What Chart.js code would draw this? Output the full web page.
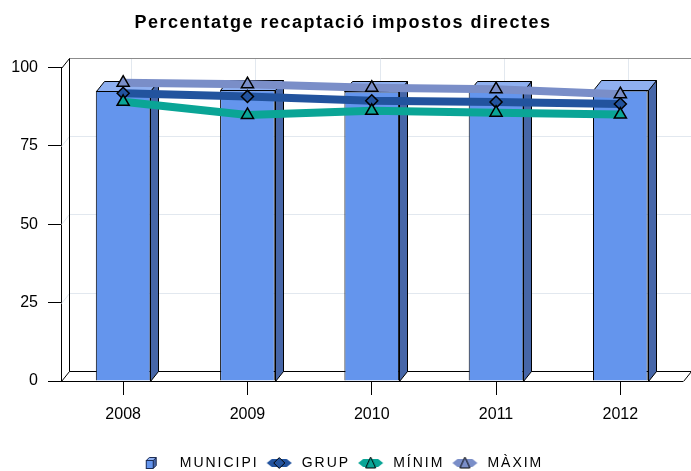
<!DOCTYPE html>
<html>
<head>
<meta charset="utf-8">
<script src="https://cdn.jsdelivr.net/npm/chart.js@4.4.0/dist/chart.umd.min.js"></script>
<style>
  html, body { margin: 0; padding: 0; background: #fff; }
</style>
</head>
<body>
<canvas id="chart" width="691" height="471"></canvas>
<script>
// Data
var years    = ['2008', '2009', '2010', '2011', '2012'];
var municipi = [92.6, 92.8, 92.4, 92.5, 92.7];
var grup     = [91.8, 90.8, 89.4, 89.0, 88.4];
var minim    = [89.1, 84.9, 86.2, 85.6, 85.0];
var maxim    = [95.2, 94.7, 93.6, 93.1, 91.5];
var yTicks   = [0, 25, 50, 75, 100];

var seriesNames = ['MUNICIPI', 'GRUP', 'MÍNIM', 'MÀXIM'];

// depth of the fake 3D box
var DX = 8, DY = -10;

// the reference text is spaced out, wrap legend + title to add letter spacing
function spaced(el, spacing) {
  ['fit', 'draw'].forEach(function(m) {
    var orig = el.prototype[m];
    el.prototype[m] = function() {
      var c = this.ctx, old = c.letterSpacing;
      c.letterSpacing = spacing;
      var r = orig.apply(this, arguments);
      c.letterSpacing = old;
      return r;
    };
  });
}
spaced(Chart.registry.getPlugin('legend')._element, '2px');
spaced(Chart.registry.getPlugin('title')._element, '1.5px');

function line(ctx, x1, y1, x2, y2) {
  ctx.beginPath();
  ctx.moveTo(x1, y1);
  ctx.lineTo(x2, y2);
  ctx.stroke();
}

function poly(ctx, pts, fill) {
  ctx.beginPath();
  ctx.moveTo(pts[0][0], pts[0][1]);
  for (var i = 1; i < pts.length; i++) ctx.lineTo(pts[i][0], pts[i][1]);
  ctx.closePath();
  ctx.fillStyle = fill;
  ctx.fill();
  ctx.stroke();
}

// Back wall, floor and grid
var wallPlugin = {
  id: 'wall3d',
  beforeDatasetsDraw: function(chart) {
    var ctx = chart.ctx, a = chart.chartArea;
    var ys = chart.scales.y, xs = chart.scales.x;
    var L = Math.round(a.left) + 0.5, R = Math.round(a.right) + 0.5;
    var T = Math.round(a.top) + 0.5, B = Math.round(a.bottom) + 0.5;
    ctx.save();
    ctx.lineWidth = 1;
    ctx.strokeStyle = '#e2e8ef';
    yTicks.forEach(function(v) {
      if (v === 0 || v === 100) return;
      var py = Math.round(ys.getPixelForValue(v)) + 0.5;
      line(ctx, L, py, L + DX, py + DY);
      line(ctx, L + DX, py + DY, R + DX, py + DY);
    });
    years.forEach(function(_, i) {
      var px = Math.round(xs.getPixelForValue(i)) + DX + 0.5;
      line(ctx, px, T + DY, px, B + DY);
    });
    ctx.strokeStyle = '#8c8c8c';
    line(ctx, L + DX, T + DY, R + DX, T + DY);
    ctx.strokeStyle = '#000';
    line(ctx, L, T, L + DX, T + DY);
    line(ctx, L + DX, T + DY, L + DX, B + DY);
    line(ctx, L + DX, B + DY, R + DX, B + DY);
    line(ctx, L, B, L + DX, B + DY);
    line(ctx, R, B, R + DX, B + DY);
    ctx.restore();
  },
  afterDatasetDraw: function(chart, args) {
    if (args.index !== 0) return;
    var ctx = chart.ctx;
    ctx.save();
    ctx.lineWidth = 1;
    ctx.strokeStyle = '#000';
    chart.getDatasetMeta(0).data.forEach(function(bar) {
      var p = bar.getProps(['x', 'y', 'base', 'width'], true);
      var l = Math.round(p.x - p.width / 2) + 0.5, r = Math.round(p.x + p.width / 2) + 0.5;
      var t = Math.round(p.y) + 0.5, b = Math.round(p.base) + 0.5;
      poly(ctx, [[r, t], [r + DX, t + DY], [r + DX, b + DY], [r, b]], '#4666a8');
      poly(ctx, [[l, t], [l + DX, t + DY], [r + DX, t + DY], [r, t]], '#8fb0f0');
    });
    ctx.restore();
  }
};

// Legend icons
function makeIcon(kind, color) {
  var c = document.createElement('canvas');
  c.width = 28; c.height = 14;
  var g = c.getContext('2d');
  g.lineWidth = 1;
  g.strokeStyle = '#000';
  if (kind === 'bar') {
    g.strokeStyle = '#1c2c55';
    g.fillStyle = '#8fb0f0';
    g.beginPath(); g.moveTo(2.5, 4.5); g.lineTo(5.5, 1.5); g.lineTo(12.5, 1.5); g.lineTo(9.5, 4.5); g.closePath(); g.fill(); g.stroke();
    g.fillStyle = '#4666a8';
    g.beginPath(); g.moveTo(9.5, 4.5); g.lineTo(12.5, 1.5); g.lineTo(12.5, 9.5); g.lineTo(9.5, 12.5); g.closePath(); g.fill(); g.stroke();
    g.fillStyle = '#6495ed';
    g.fillRect(2.5, 4.5, 7, 8); g.strokeRect(2.5, 4.5, 7, 8);
    return c;
  }
  g.fillStyle = color;
  g.beginPath(); g.moveTo(1, 7); g.lineTo(6, 3); g.lineTo(21, 3); g.lineTo(26, 7); g.lineTo(21, 11); g.lineTo(6, 11); g.closePath(); g.fill();
  if (kind === 'diamond') {
    g.beginPath(); g.moveTo(13.5, 1.5); g.lineTo(19, 7); g.lineTo(13.5, 12.5); g.lineTo(8, 7); g.closePath();
    g.fill(); g.stroke();
  } else {
    g.beginPath(); g.moveTo(13.5, 1); g.lineTo(18.5, 12); g.lineTo(8.5, 12); g.closePath();
    g.fill(); g.stroke();
  }
  return c;
}

var icons = [
  makeIcon('bar', '#6495ed'),
  makeIcon('diamond', '#22539e'),
  makeIcon('tri', '#0aa596'),
  makeIcon('tri', '#7a8ec8')
];

new Chart(document.getElementById('chart').getContext('2d'), {
  type: 'bar',
  data: {
    labels: years,
    datasets: [{
      label: seriesNames[0],
      data: municipi,
      backgroundColor: '#6495ed',
      borderColor: '#000',
      borderWidth: 1,
      barPercentage: 0.44,
      categoryPercentage: 1,
      order: 10
    }, {
      type: 'line',
      label: seriesNames[1],
      data: grup,
      borderColor: '#22539e',
      borderWidth: 8,
      pointStyle: 'rectRot',
      pointRadius: 6,
      pointBackgroundColor: '#22539e',
      pointBorderColor: '#000',
      pointBorderWidth: 1.5,
      tension: 0,
      order: 2
    }, {
      type: 'line',
      label: seriesNames[2],
      data: minim,
      borderColor: '#0aa596',
      borderWidth: 8,
      pointStyle: 'triangle',
      pointRadius: 7,
      pointBackgroundColor: '#0aa596',
      pointBorderColor: '#000',
      pointBorderWidth: 1.5,
      tension: 0,
      order: 1
    }, {
      type: 'line',
      label: seriesNames[3],
      data: maxim,
      borderColor: '#7a8ec8',
      borderWidth: 8,
      pointStyle: 'triangle',
      pointRadius: 7,
      pointBackgroundColor: '#7a8ec8',
      pointBorderColor: '#000',
      pointBorderWidth: 1.5,
      tension: 0,
      order: 3
    }]
  },
  options: {
    responsive: false,
    animation: false,
    layout: { padding: { left: 0, right: 5, top: 0, bottom: -9 } },
    plugins: {
      tooltip: { enabled: false },
      title: {
        display: true,
        text: 'Percentatge recaptació impostos directes',
        color: '#000',
        font: { family: 'Liberation Sans', size: 18, weight: 'bold' },
        padding: { top: 12, bottom: 34 }
      },
      legend: {
        position: 'bottom',
        labels: {
          usePointStyle: true,
          pointStyleWidth: 30,
          padding: 6,
          color: '#222',
          font: { family: 'Liberation Sans', size: 14 },
          generateLabels: function(chart) {
            return chart.data.datasets.map(function(ds, i) {
              return {
                text: ds.label,
                datasetIndex: i,
                pointStyle: icons[i],
                fillStyle: 'rgba(0,0,0,0)',
                strokeStyle: 'rgba(0,0,0,0)',
                lineWidth: 0,
                hidden: false
              };
            });
          }
        }
      }
    },
    scales: {
      x: {
        offset: true,
        grid: { offset: false, drawOnChartArea: false, drawTicks: true, tickLength: 14, tickColor: '#000' },
        border: { color: '#000' },
        ticks: { color: '#000', padding: 10, font: { family: 'Liberation Sans', size: 16 } },
        afterFit: function(scale) { scale.height = 69; }
      },
      y: {
        min: 0,
        max: 100,
        grid: { drawOnChartArea: false, drawTicks: true, tickLength: 13, tickColor: '#000' },
        border: { color: '#000' },
        ticks: { stepSize: 25, color: '#000', padding: 10, font: { family: 'Liberation Sans', size: 16 } },
        afterFit: function(scale) { scale.width = 61; }
      }
    }
  },
  plugins: [wallPlugin]
});
</script>
</body>
</html>
